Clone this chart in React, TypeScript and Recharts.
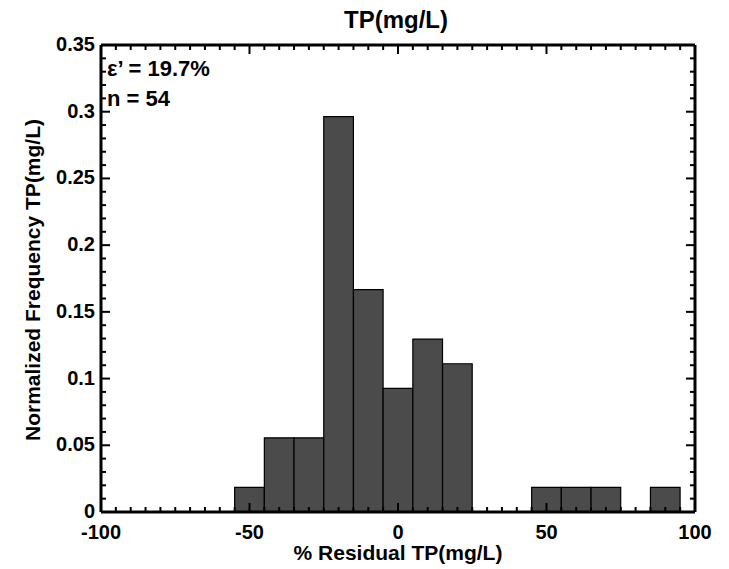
import React from 'react';
import {
  BarChart,
  Bar,
  XAxis,
  YAxis,
} from 'recharts';

// histogram bins (10 % wide), only the non-empty ones
const binCenters = [-50, -40, -30, -20, -10, 0, 10, 20, 50, 60, 70, 90];
const frequencies = [0.0185, 0.0556, 0.0556, 0.2963, 0.1667, 0.0926, 0.1296, 0.1111, 0.0185, 0.0185, 0.0185, 0.0185];

const xMajorTicks = [-100, -50, 0, 50, 100];
const xMinorTicks = [-95, -90, -85, -80, -75, -70, -65, -60, -55, -45, -40, -35, -30, -25, -20, -15, -10, -5, 5, 10, 15, 20, 25, 30, 35, 40, 45, 55, 60, 65, 70, 75, 80, 85, 90, 95];
const yMajorTicks = [0, 0.05, 0.1, 0.15, 0.2, 0.25, 0.3, 0.35];
const yMinorTicks = [0.01, 0.02, 0.03, 0.04, 0.06, 0.07, 0.08, 0.09, 0.11, 0.12, 0.13, 0.14, 0.16, 0.17, 0.18, 0.19, 0.21, 0.22, 0.23, 0.24, 0.26, 0.27, 0.28, 0.29, 0.31, 0.32, 0.33, 0.34];

const titleText = 'TP(mg/L)';
const xLabel = '% Residual TP(mg/L)';
const yLabel = 'Normalized Frequency TP(mg/L)';
const statsLines = ['\u03b5\u2019 = 19.7%', 'n = 54'];

const data = binCenters.map((x, i) => ({ x, freq: frequencies[i] }));

const W = 729;
const H = 569;
// each axis takes 1px (an axis of size 0 is not drawn), so the plot is 101..695 x 45..512
const margin = { top: 44, right: 33, bottom: 56, left: 100 };
const plotW = 695 - 101;
const binPx = (plotW / 200) * 10;

const FONT = '"Liberation Sans", Arial, sans-serif';
const MAJOR = 9;
const MINOR = 5;

const xTicks = [...xMajorTicks, ...xMinorTicks];
const yTicks = [...yMajorTicks, ...yMinorTicks];

export default function App() {
  const isMajorX = (v: number) => xMajorTicks.includes(v);
  const isMajorY = (v: number) => yMajorTicks.includes(v);

  const bottomTick = (p: any) => {
    const major = isMajorX(p.payload.value);
    return (
      <g>
        <line x1={p.x} x2={p.x} y1={p.y} y2={p.y - (major ? MAJOR : MINOR)} stroke="#000" strokeWidth={2} />
        {major && (
          <text x={p.x} y={p.y + 27} textAnchor="middle" fontSize={20} fontWeight="bold" fontFamily={FONT} fill="#000">
            {String(p.payload.value)}
          </text>
        )}
      </g>
    );
  };
  const topTick = (p: any) => (
    <line x1={p.x} x2={p.x} y1={p.y} y2={p.y + (isMajorX(p.payload.value) ? MAJOR : MINOR)} stroke="#000" strokeWidth={2} />
  );
  const leftTick = (p: any) => {
    const major = isMajorY(p.payload.value);
    return (
      <g>
        <line x1={p.x} x2={p.x + (major ? MAJOR : MINOR)} y1={p.y} y2={p.y} stroke="#000" strokeWidth={2} />
        {major && (
          <text x={p.x - 6} y={p.y + 6} textAnchor="end" fontSize={20} fontWeight="bold" fontFamily={FONT} fill="#000">
            {String(p.payload.value)}
          </text>
        )}
      </g>
    );
  };
  const rightTick = (p: any) => (
    <line x1={p.x} x2={p.x - (isMajorY(p.payload.value) ? MAJOR : MINOR)} y1={p.y} y2={p.y} stroke="#000" strokeWidth={2} />
  );

  const axisLine = { stroke: '#000', strokeWidth: 3 };
  const commonX = { type: 'number' as const, dataKey: 'x', domain: [-100, 100], allowDataOverflow: true, tickSize: 0, tickMargin: 0, tickLine: false, interval: 0 as const, height: 1, ticks: xTicks, axisLine };
  const commonY = { type: 'number' as const, domain: [0, 0.35], allowDataOverflow: true, tickSize: 0, tickMargin: 0, tickLine: false, interval: 0 as const, width: 1, ticks: yTicks, axisLine };

  return (
    <div style={{ position: 'absolute', left: 0, top: 0, width: W, height: H, background: '#fff' }}>
      <BarChart width={W} height={H} data={data} margin={margin} barCategoryGap={0} barGap={0}>
        <Bar
          dataKey="freq"
          xAxisId="b"
          yAxisId="l"
          barSize={binPx - 0.05}
          fill="#4b4b4b"
          stroke="#000"
          strokeWidth={1.2}
          isAnimationActive={false}
        />
        <XAxis {...commonX} xAxisId="b" orientation="bottom" tick={bottomTick} />
        <XAxis {...commonX} xAxisId="t" orientation="top" tick={topTick} />
        <YAxis {...commonY} yAxisId="l" orientation="left" tick={leftTick} />
        <YAxis {...commonY} yAxisId="r" orientation="right" tick={rightTick} />
        <text x={396} y={28} textAnchor="middle" fontSize={24} fontWeight="bold" fontFamily={FONT} fill="#000">
          {titleText}
        </text>
        <text x={398} y={560} textAnchor="middle" fontSize={21} fontWeight="bold" fontFamily={FONT} fill="#000">
          {xLabel}
        </text>
        <text
          x={40}
          y={280}
          textAnchor="middle"
          fontSize={21}
          fontWeight="bold"
          fontFamily={FONT}
          fill="#000"
          transform="rotate(-90 40 280)"
        >
          {yLabel}
        </text>
        {statsLines.map((s, i) => (
          <text key={s} x={107} y={76 + i * 30} fontSize={22} fontWeight="bold" fontFamily={FONT} fill="#000">
            {s}
          </text>
        ))}
      </BarChart>
    </div>
  );
}
